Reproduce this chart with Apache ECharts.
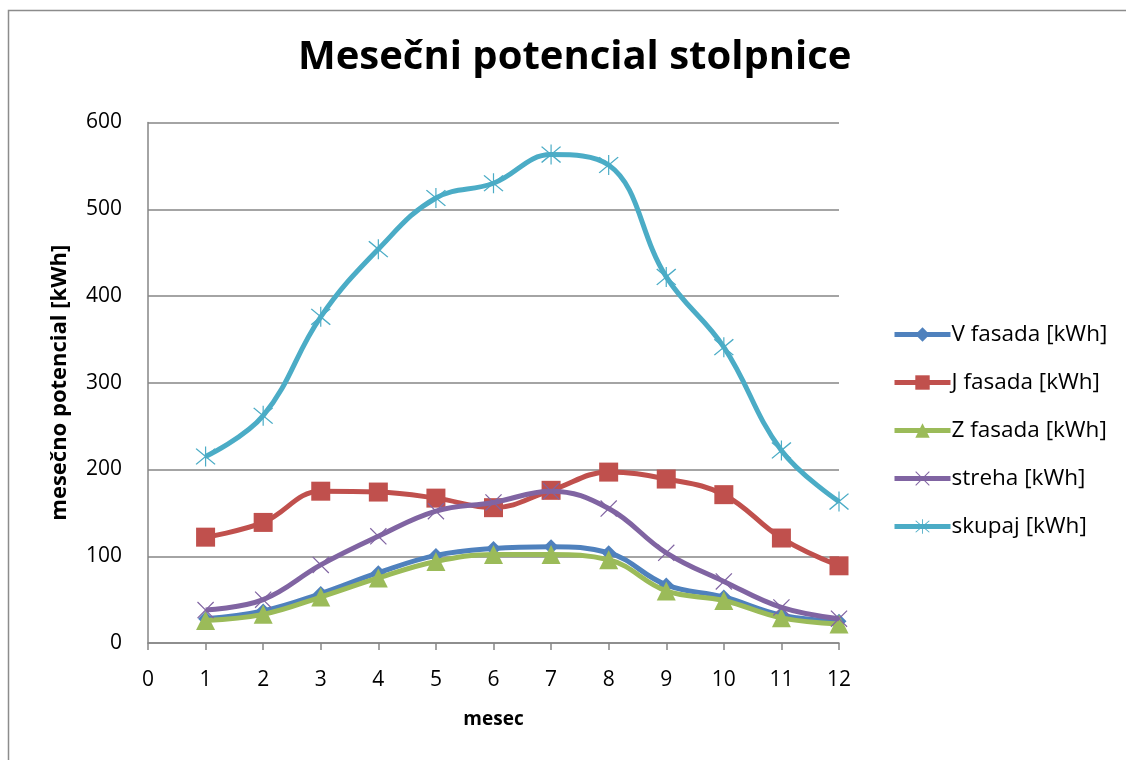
<!DOCTYPE html>
<html>
<head>
<meta charset="utf-8">
<script src="https://cdn.jsdelivr.net/npm/echarts@6/dist/echarts.min.js"></script>
<style>
html,body{margin:0;padding:0;background:#fff;}
#c{width:1126px;height:760px;}
</style>
</head>
<body>
<div id="c"></div>
<script>
const months = [1,2,3,4,5,6,7,8,9,10,11,12];
const seriesNames = ['V fasada [kWh]','J fasada [kWh]','Z fasada [kWh]','streha [kWh]','skupaj [kWh]'];
const vFasada = [28, 37, 57, 81, 101, 109, 111, 104, 67, 53, 32, 25];
const jFasada = [122, 139, 175, 174, 167, 156, 176, 197, 189, 171, 121, 89];
const zFasada = [26, 33, 53, 75, 94, 102, 102, 96, 60, 49, 29, 22];
const streha = [38, 50, 90, 123, 152, 162, 175, 155, 104, 71, 41, 28];
const skupaj = [215, 262, 376, 454, 513, 530, 563, 551, 422, 341, 222, 163];
const xTicks = [0,1,2,3,4,5,6,7,8,9,10,11,12];
const yTicks = [0,100,200,300,400,500,600];

const FONT = 'Open Sans';
const colors = ['#4F81BD','#C0504D','#9BBB59','#8064A2','#4BACC6'];
const xPath = 'path://M1,0 L10,9 L19,0 L20,1 L11,10 L20,19 L19,20 L10,11 L1,20 L0,19 L9,10 L0,1 Z';
const starPath = 'path://M1,0 L10,9 L19,0 L20,1 L11,10 L20,19 L19,20 L10,11 L1,20 L0,19 L9,10 L0,1 Z M9.4,-2 L10.6,-2 L10.6,22 L9.4,22 Z';
const symbols = ['diamond','rect','triangle',xPath,starPath];
const symSizes = [15,19,19,17,20];
const values = [vFasada,jFasada,zFasada,streha,skupaj];

const chart = echarts.init(document.getElementById('c'));
chart.setOption({
  animation:false,
  backgroundColor:'#fff',
  title:{
    text:'Mesečni potencial stolpnice',
    left:293, top:33,
    textStyle:{fontFamily:FONT,fontWeight:'bold',fontSize:40,color:'#000'}
  },
  graphic:[{
    type:'rect', shape:{x:8.5,y:10.5,width:1200,height:900},
    style:{fill:'none',stroke:'#8c8c8c',lineWidth:1.5}, silent:true
  }],
  legend:{
    orient:'vertical', left:887, top:318,
    itemWidth:56, itemHeight:18, itemGap:25,
    lineStyle:{width:5},
    textStyle:{fontFamily:FONT,fontSize:22.5,color:'#000',padding:[0,0,0,-4]},
    data:seriesNames
  },
  grid:{left:148,right:287,top:122.5,bottom:117,containLabel:false,outerBoundsMode:'none'},
  xAxis:{
    type:'value', min:xTicks[0], max:xTicks[xTicks.length-1], interval:1,
    name:'mesec', nameLocation:'middle', nameGap:67,
    nameTextStyle:{fontFamily:FONT,fontWeight:'bold',fontSize:19,color:'#000'},
    axisLine:{show:true,lineStyle:{color:'#868686',width:1.5}},
    axisTick:{show:true,inside:false,length:7,lineStyle:{color:'#868686',width:1.5}},
    axisLabel:{fontFamily:FONT,fontSize:21,color:'#000',margin:27},
    splitLine:{show:false}
  },
  yAxis:{
    type:'value', min:yTicks[0], max:yTicks[yTicks.length-1], interval:100,
    name:'mesečno potencial [kWh]', nameLocation:'middle', nameGap:77, nameRotate:90,
    nameTextStyle:{fontFamily:FONT,fontWeight:'bold',fontSize:22,color:'#000'},
    axisLine:{show:true,lineStyle:{color:'#868686',width:1.5}},
    axisTick:{show:false},
    axisLabel:{fontFamily:FONT,fontSize:21,color:'#000',margin:26},
    splitLine:{show:true,lineStyle:{color:'#868686',width:1.5}}
  },
  series: seriesNames.map((n,i)=>({
    name:n, type:'line', smooth:0.4,
    data: months.map((m,j)=>[m, values[i][j]]),
    symbol:symbols[i], symbolSize:symSizes[i],
    lineStyle:{color:colors[i],width:5},
    itemStyle:{color:colors[i],borderWidth:0},
    z: 2+i
  }))
});
</script>
</body>
</html>
